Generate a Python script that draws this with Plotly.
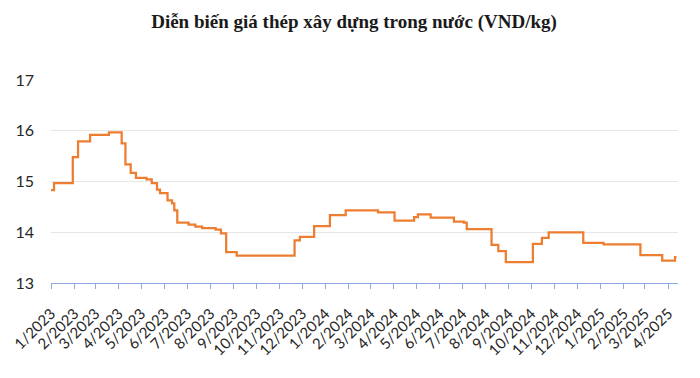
import plotly.graph_objects as go

# Step-change dates and prices (thousand VND/kg)
dates = [
    "2023-01-01", "2023-01-05", "2023-01-30", "2023-02-06", "2023-02-22", "2023-03-19",
    "2023-04-05", "2023-04-10", "2023-04-17", "2023-04-24", "2023-05-08", "2023-05-15",
    "2023-05-22", "2023-05-26", "2023-06-05", "2023-06-11", "2023-06-14", "2023-06-18",
    "2023-07-03", "2023-07-12", "2023-07-21", "2023-08-08", "2023-08-15", "2023-08-22",
    "2023-09-05", "2023-11-21", "2023-11-28", "2023-12-17", "2024-01-07", "2024-01-28",
    "2024-03-11", "2024-04-02", "2024-04-28", "2024-05-03", "2024-05-20", "2024-06-20",
    "2024-07-03", "2024-07-07", "2024-08-09", "2024-08-18", "2024-08-28", "2024-10-03",
    "2024-10-15", "2024-10-24", "2024-12-09", "2025-01-05", "2025-02-23", "2025-03-24",
    "2025-04-10", "2025-04-12",
]
prices = [
    14.83, 14.97, 15.48, 15.79, 15.92, 15.97,
    15.75, 15.34, 15.17, 15.07, 15.04, 14.97,
    14.84, 14.77, 14.63, 14.57, 14.43, 14.19,
    14.15, 14.11, 14.08, 14.05, 13.98, 13.61,
    13.54, 13.84, 13.91, 14.12, 14.34, 14.43,
    14.39, 14.23, 14.30, 14.35, 14.29, 14.21,
    14.19, 14.06, 13.75, 13.63, 13.41, 13.77,
    13.89, 14.00, 13.79, 13.76, 13.55, 13.44,
    13.51, 13.51,
]

tick_dates = []
tick_labels = []
for y in (2023, 2024, 2025):
    for m in range(1, 13):
        if y == 2025 and m > 4:
            break
        tick_dates.append(f"{y}-{m:02d}-01")
        tick_labels.append(f"{m}/{y}")

y_ticks = [13, 14, 15, 16, 17]

# The page body has an 8px margin, so the figure is drawn 8px in from the top-left corner.
OFF = 8
W, H = 700 - OFF, 378 - OFF
ML, MR, MT, MB = 51 - OFF, 22, 80 - OFF, 95

fig = go.Figure()
fig.add_trace(go.Scatter(
    x=dates, y=prices, mode="lines", line_shape="hv",
    line=dict(color="#ED7D31", width=2.25), hoverinfo="x+y", showlegend=False,
))

fig.update_layout(
    width=W, height=H,
    margin=dict(l=ML, r=MR, t=MT, b=MB, autoexpand=False),
    paper_bgcolor="white", plot_bgcolor="white",
    title=dict(
        text="<b>Diễn biến giá thép xây dựng trong nước (VND/kg)</b>",
        x=0.5, xanchor="center", y=1 - (21 - OFF) / H, yanchor="middle",
        font=dict(family="Liberation Serif, Times New Roman, serif", size=19, color="#1a1a1a"),
    ),
    xaxis=dict(
        type="date", range=["2023-01-01", "2025-04-14"], automargin=False,
        tickvals=tick_dates, ticktext=tick_labels, tickangle=-45,
        ticklabeloverflow="allow",
        showgrid=False, showline=True, linecolor="#8FAADC", linewidth=1,
        ticks="outside", tickcolor="#8FAADC", ticklen=5,
        ticklabelstandoff=10,
        tickfont=dict(family="Lato, Open Sans, sans-serif", size=15, color="#262626"),
        zeroline=False,
    ),
    yaxis=dict(
        range=[13, 17], tickvals=y_ticks, automargin=False,
        showgrid=True, gridcolor="#E6E6E6", gridwidth=1,
        showline=False, zeroline=False, ticks="",
        ticklabelstandoff=16,
        tickfont=dict(family="Lato, Open Sans, sans-serif", size=16, color="#262626"),
    ),
)

fig.write_html("out.html")
